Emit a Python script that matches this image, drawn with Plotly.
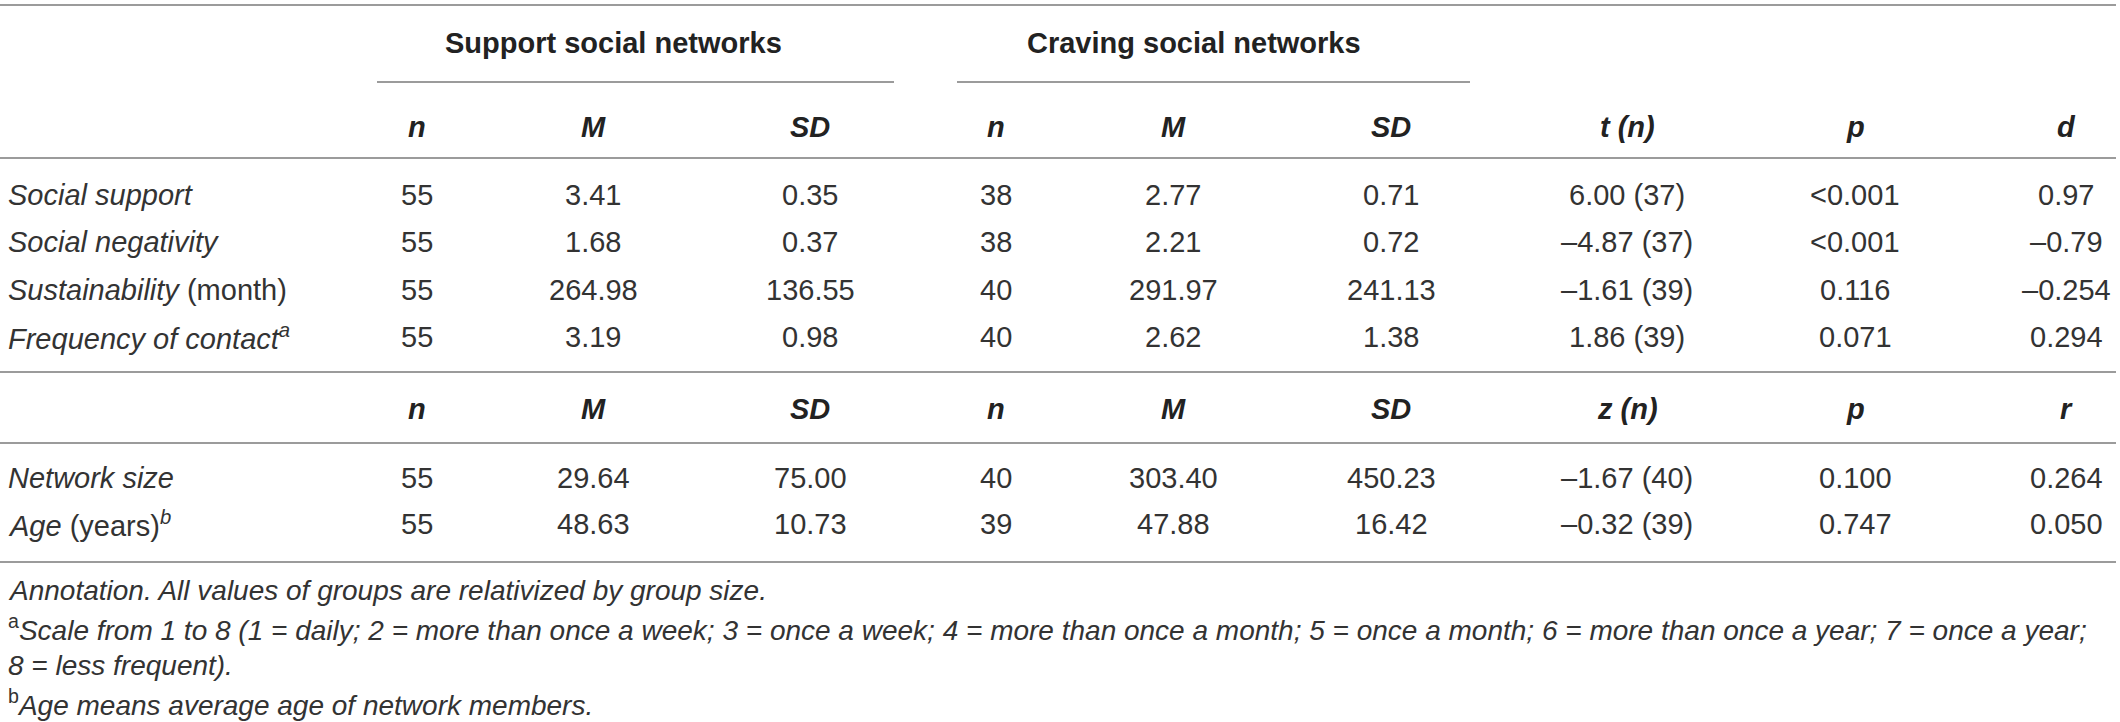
import plotly.graph_objects as go

# ---- table contents ----
group_titles = ["Support social networks", "Craving social networks"]
header_top = ["n", "M", "SD", "n", "M", "SD", "t (n)", "p", "d"]
header_bottom = ["n", "M", "SD", "n", "M", "SD", "z (n)", "p", "r"]

labels_top = [
    "<i>Social support</i>",
    "<i>Social negativity</i>",
    "<i>Sustainability</i> (month)",
    "<i>Frequency of contact<sup>a</sup></i>",
]
support_n_top = ["55", "55", "55", "55"]
support_m_top = ["3.41", "1.68", "264.98", "3.19"]
support_sd_top = ["0.35", "0.37", "136.55", "0.98"]
craving_n_top = ["38", "38", "40", "40"]
craving_m_top = ["2.77", "2.21", "291.97", "2.62"]
craving_sd_top = ["0.71", "0.72", "241.13", "1.38"]
t_values = ["6.00 (37)", "–4.87 (37)", "–1.61 (39)", "1.86 (39)"]
p_top = ["&lt;0.001", "&lt;0.001", "0.116", "0.071"]
d_values = ["0.97", "–0.79", "–0.254", "0.294"]

labels_bottom = ["<i>Network size</i>", "<i>Age</i> (years)<i><sup>b</sup></i>"]
support_n_bottom = ["55", "55"]
support_m_bottom = ["29.64", "48.63"]
support_sd_bottom = ["75.00", "10.73"]
craving_n_bottom = ["40", "39"]
craving_m_bottom = ["303.40", "47.88"]
craving_sd_bottom = ["450.23", "16.42"]
z_values = ["–1.67 (40)", "–0.32 (39)"]
p_bottom = ["0.100", "0.747"]
r_values = ["0.264", "0.050"]

footnotes = [
    "<i>Annotation. All values of groups are relativized by group size.</i>",
    "<sup>a</sup><i>Scale from 1 to 8 (1 = daily; 2 = more than once a week; 3 = once a week; "
    "4 = more than once a month; 5 = once a month; 6 = more than once a year; 7 = once a year;</i>",
    "<i>8 = less frequent).</i>",
    "<sup>b</sup><i>Age means average age of network members.</i>",
]

# ---- layout (pixel grid) ----
W, H = 2120, 722
col_x = [417, 593, 810, 996, 1173, 1391, 1627, 1855, 2066]
label_x = 6
rule_color = "#9b9b9b"
txt_color = "#333333"
fsize = 29
font = "Liberation Sans"

top_rows = [support_n_top, support_m_top, support_sd_top, craving_n_top,
            craving_m_top, craving_sd_top, t_values, p_top, d_values]
bottom_rows = [support_n_bottom, support_m_bottom, support_sd_bottom, craving_n_bottom,
               craving_m_bottom, craving_sd_bottom, z_values, p_bottom, r_values]

fig = go.Figure()
ann = []


def txt(x, y, s, anchor="center", size=fsize, color=txt_color):
    ann.append(dict(x=x, y=y, xref="x", yref="y", text=s, showarrow=False,
                    xanchor=anchor, yanchor="middle",
                    font=dict(family=font, size=size, color=color)))


# group titles, centred over their three columns
for g, title in enumerate(group_titles):
    txt((col_x[3 * g] + col_x[3 * g + 2]) / 2, 43, "<b>" + title + "</b>", color="#222222")

rows_top_y = [195 + 47.4 * i for i in range(len(labels_top))]
rows_bottom_y = [478 + 46 * i for i in range(len(labels_bottom))]

for c, h in enumerate(header_top):
    txt(col_x[c], 127, "<b><i>" + h + "</i></b>", color="#222222")
for c, h in enumerate(header_bottom):
    txt(col_x[c], 409, "<b><i>" + h + "</i></b>", color="#222222")

for r, lab in enumerate(labels_top):
    txt(label_x, rows_top_y[r], lab, anchor="left")
    for c, col in enumerate(top_rows):
        txt(col_x[c], rows_top_y[r], col[r])

for r, lab in enumerate(labels_bottom):
    txt(label_x, rows_bottom_y[r], lab, anchor="left")
    for c, col in enumerate(bottom_rows):
        txt(col_x[c], rows_bottom_y[r], col[r])

for i, note in enumerate(footnotes):
    txt(label_x, 590 + 37.6 * i, note, anchor="left", size=28)

# horizontal rules
shapes = []
for y in [5, 158, 372, 443, 562]:
    shapes.append(dict(type="line", xref="x", yref="y", x0=0, x1=2116, y0=y, y1=y,
                       line=dict(color=rule_color, width=2)))
for x0, x1 in [(377, 894), (957, 1470)]:
    shapes.append(dict(type="line", xref="x", yref="y", x0=x0, x1=x1, y0=82, y1=82,
                       line=dict(color=rule_color, width=2)))

fig.update_layout(
    width=W, height=H,
    margin=dict(l=0, r=0, t=0, b=0),
    paper_bgcolor="white", plot_bgcolor="white",
    xaxis=dict(range=[0, W], visible=False, fixedrange=True),
    yaxis=dict(range=[H, 0], visible=False, fixedrange=True),
    annotations=ann, shapes=shapes, showlegend=False,
)

# drop the page's default body margin so the table sits flush at the corner
fig.write_html("out.html", config={"displayModeBar": False},
               post_script="document.body.style.margin='0';")
